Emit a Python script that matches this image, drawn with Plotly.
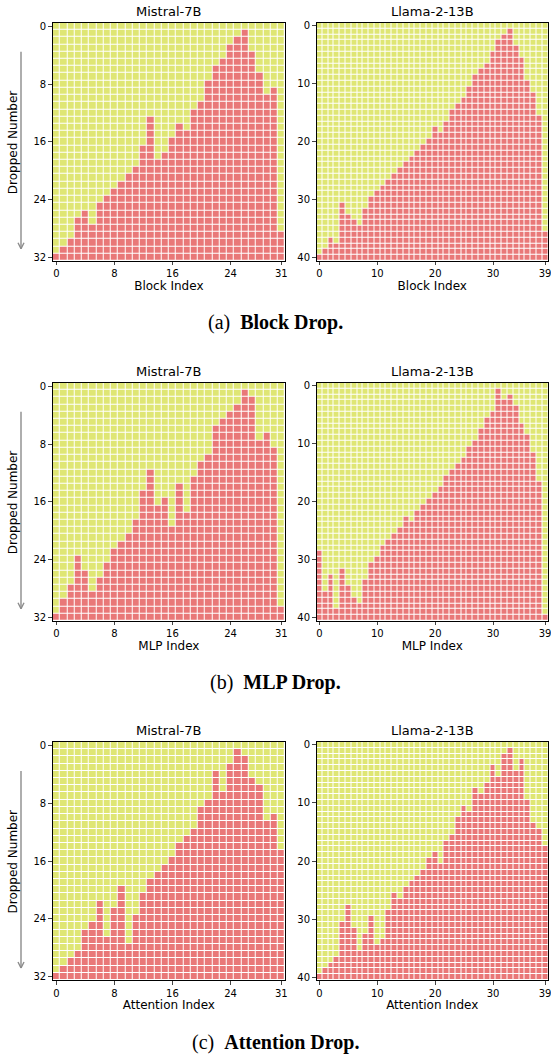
import plotly.graph_objects as go

# Rank (dropped-number threshold) at which each layer becomes dropped
mistral_block = [32, 31, 30, 27, 26, 28, 25, 24, 23, 22, 21, 20, 17, 13, 19, 18,
                 16, 14, 15, 12, 11, 8, 6, 5, 3, 2, 1, 4, 7, 10, 9, 29]
llama_block = [40, 39, 37, 38, 31, 33, 34, 35, 32, 30, 29, 28, 27, 26, 25, 24, 23, 22, 21, 20,
               18, 19, 17, 15, 14, 13, 11, 9, 8, 7, 5, 3, 2, 1, 4, 6, 10, 12, 16, 36]
mistral_mlp = [32, 30, 28, 24, 26, 29, 27, 25, 23, 22, 21, 19, 15, 12, 17, 16,
               20, 14, 18, 13, 11, 10, 6, 5, 4, 3, 1, 2, 8, 7, 9, 31]
llama_mlp = [29, 36, 33, 39, 32, 35, 37, 38, 34, 31, 30, 28, 27, 26, 25, 23, 24, 22, 21, 20,
             19, 18, 16, 15, 14, 13, 11, 10, 8, 6, 5, 1, 3, 2, 4, 7, 9, 12, 17, 40]
mistral_attn = [32, 31, 30, 29, 26, 25, 22, 27, 23, 20, 28, 24, 21, 19, 18, 17,
                16, 14, 13, 12, 9, 8, 4, 7, 3, 1, 2, 5, 6, 11, 10, 15]
llama_attn = [40, 39, 38, 37, 31, 28, 32, 36, 33, 30, 35, 34, 29, 26, 27, 25, 24, 23, 22, 20,
              19, 21, 17, 16, 13, 11, 12, 8, 9, 7, 4, 6, 2, 1, 5, 3, 10, 14, 15, 18]

model_titles = ["Mistral-7B", "Llama-2-13B"]
x_titles = ["Block Index", "MLP Index", "Attention Index"]
captions = [("(a)", "Block Drop."), ("(b)", "MLP Drop."), ("(c)", "Attention Drop.")]
mistral_ticks = [0, 8, 16, 24, 31]
mistral_yticks = [0, 8, 16, 24, 32]
llama_ticks = [0, 10, 20, 30, 39]
llama_yticks = [0, 10, 20, 30, 40]

panels = [[mistral_block, llama_block], [mistral_mlp, llama_mlp], [mistral_attn, llama_attn]]

YELLOW = "#dfe674"
RED = "#e97878"
ARROW = "#8c8c8c"

W, H = 551, 1056
col_px = [(52.7, 285.0), (316.5, 548.0)]
row_px = [(22.7, 260.7), (382.7, 620.7), (742.0, 980.0)]

fig = go.Figure()
font_main = "DejaVu Sans"


def pxx(x):
    return x / W


def pxy(y):
    return 1 - y / H


k = 0
for r in range(3):
    for c in range(2):
        k += 1
        ranks = panels[r][c]
        n = len(ranks)
        rows = n + 1
        z = [[1 if i >= ranks[j] else 0 for j in range(n)] for i in range(rows)]
        xa = "x" if k == 1 else f"x{k}"
        ya = "y" if k == 1 else f"y{k}"
        fig.add_trace(go.Heatmap(
            z=z, x=list(range(n)), y=list(range(rows)),
            colorscale=[[0, YELLOW], [0.5, YELLOW], [0.5, RED], [1, RED]],
            zmin=0, zmax=1, showscale=False, xgap=1, ygap=1,
            xaxis=xa, yaxis=ya, hoverinfo="skip"))
        x0, x1 = col_px[c]
        y0, y1 = row_px[r]
        xticks = mistral_ticks if c == 0 else llama_ticks
        yticks = mistral_yticks if c == 0 else llama_yticks
        xname = "xaxis" if k == 1 else f"xaxis{k}"
        yname = "yaxis" if k == 1 else f"yaxis{k}"
        fig.layout[xname] = dict(
            domain=[pxx(x0), pxx(x1)], anchor=ya, range=[-0.5, n - 0.5],
            tickvals=xticks, ticks="outside", ticklen=3.5, tickwidth=0.8,
            tickfont=dict(family=font_main, size=10, color="black"),
            ticklabeloverflow="allow",
            showline=True, mirror=True, linecolor="black", linewidth=1,
            showgrid=False, zeroline=False,
            title=dict(text=x_titles[r], font=dict(family=font_main, size=12, color="black"),
                       standoff=1))
        fig.layout[yname] = dict(
            domain=[pxy(y1), pxy(y0)], anchor=xa, range=[rows - 0.5, -0.5],
            tickvals=yticks, ticks="outside", ticklen=3.5, tickwidth=0.8,
            tickfont=dict(family=font_main, size=10, color="black"),
            ticklabeloverflow="allow",
            showline=True, mirror=True, linecolor="black", linewidth=1,
            showgrid=False, zeroline=False)
        # panel title
        fig.add_annotation(x=pxx((x0 + x1) / 2), y=pxy(y0 - 2), xref="paper", yref="paper",
                           text=model_titles[c], showarrow=False,
                           xanchor="center", yanchor="bottom",
                           font=dict(family=font_main, size=13, color="black"))
    # y-axis label with arrow
    y0, y1 = row_px[r]
    fig.add_annotation(x=pxx(12.5), y=pxy(y0 + 120), xref="paper", yref="paper",
                       text="Dropped Number", textangle=-90, showarrow=False,
                       xanchor="center", yanchor="middle",
                       font=dict(family=font_main, size=12, color="black"))
    ax_x = 21
    top, bot = y0 + 29, y1 - 12
    for (xa0, ya0, xa1, ya1) in [(ax_x, top, ax_x, bot),
                                 (ax_x - 3, bot - 6, ax_x, bot),
                                 (ax_x + 3, bot - 6, ax_x, bot)]:
        fig.add_shape(type="line", xref="paper", yref="paper",
                      x0=pxx(xa0), y0=pxy(ya0), x1=pxx(xa1), y1=pxy(ya1),
                      line=dict(color=ARROW, width=1.4))
    # caption
    lab, bold = captions[r]
    fig.add_annotation(x=pxx(275), y=pxy(y1 + 62), xref="paper", yref="paper",
                       text=f"{lab}  <b>{bold}</b>", showarrow=False,
                       xanchor="center", yanchor="middle",
                       font=dict(family="Liberation Serif", size=20, color="black"))

fig.update_layout(width=W, height=H,
                  margin=dict(l=0, r=0, t=0, b=0, autoexpand=False),
                  paper_bgcolor="white", plot_bgcolor="white", showlegend=False)
fig.write_html("out.html", config={"displayModeBar": False},
               post_script="document.body.style.margin='0px';document.body.style.padding='0px';")
